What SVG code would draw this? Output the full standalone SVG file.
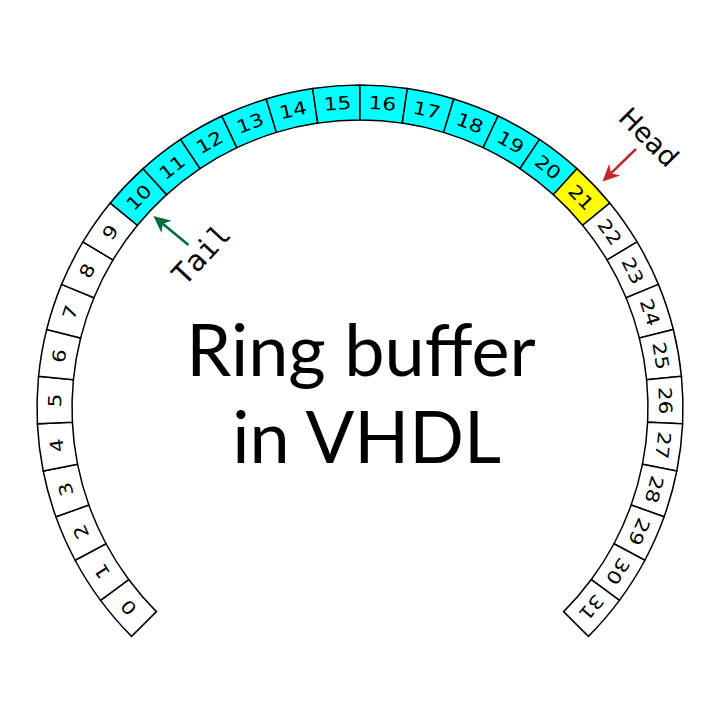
<svg xmlns="http://www.w3.org/2000/svg" xmlns:xlink="http://www.w3.org/1999/xlink" width="720" height="720" viewBox="0 0 720 720">
<style>
.seg{stroke:#000;stroke-width:1.5;stroke-linejoin:miter}
.w{fill:#fff}
.c{fill:#00ffff}
.y{fill:#ffff00}
.n{font-family:"DejaVu Sans",sans-serif;font-size:18px;text-anchor:middle;fill:#000}
.lbl{font-family:"DejaVu Sans",sans-serif;font-size:27px;text-anchor:middle;fill:#000}
.lblm{font-family:"DejaVu Sans Mono",monospace;font-size:29px;text-anchor:middle;fill:#000}
.title{font-family:Lato,"Liberation Sans",sans-serif;font-size:72px;text-anchor:middle;fill:#000}
</style>
<defs>
<path id="seg" class="seg" d="M -23.761,-322.125 A 323 323 0 0 1 23.761,-322.125 L 21.187,-287.220 A 288 288 0 0 0 -21.187,-287.220 Z"/>
<marker id="ahR" markerUnits="userSpaceOnUse" markerWidth="30" markerHeight="30" viewBox="-10 -15 30 30" refX="0" refY="0" orient="auto" overflow="visible">
<path d="M12,0 L-5,-8 L0,0 L-5,8 Z" fill="#c1272d"/>
</marker>
<marker id="ahG" markerUnits="userSpaceOnUse" markerWidth="30" markerHeight="30" viewBox="-10 -15 30 30" refX="0" refY="0" orient="auto" overflow="visible">
<path d="M12,0 L-5,-8 L0,0 L-5,8 Z" fill="#006b3a"/>
</marker>
</defs>
<rect width="720" height="720" fill="#fff"/>
<g id="ring">
<g id="s0" transform="translate(360 408) rotate(-130.78125)"><use xlink:href="#seg" href="#seg" class="w"/><text class="n" transform="translate(0 -299) scale(1.2 1)">0</text></g>
<g id="s1" transform="translate(360 408) rotate(-122.34375)"><use xlink:href="#seg" href="#seg" class="w"/><text class="n" transform="translate(0 -299) scale(1.2 1)">1</text></g>
<g id="s2" transform="translate(360 408) rotate(-113.90625)"><use xlink:href="#seg" href="#seg" class="w"/><text class="n" transform="translate(0 -299) scale(1.2 1)">2</text></g>
<g id="s3" transform="translate(360 408) rotate(-105.46875)"><use xlink:href="#seg" href="#seg" class="w"/><text class="n" transform="translate(0 -299) scale(1.2 1)">3</text></g>
<g id="s4" transform="translate(360 408) rotate(-97.03125)"><use xlink:href="#seg" href="#seg" class="w"/><text class="n" transform="translate(0 -299) scale(1.2 1)">4</text></g>
<g id="s5" transform="translate(360 408) rotate(-88.59375)"><use xlink:href="#seg" href="#seg" class="w"/><text class="n" transform="translate(0 -299) scale(1.2 1)">5</text></g>
<g id="s6" transform="translate(360 408) rotate(-80.15625)"><use xlink:href="#seg" href="#seg" class="w"/><text class="n" transform="translate(0 -299) scale(1.2 1)">6</text></g>
<g id="s7" transform="translate(360 408) rotate(-71.71875)"><use xlink:href="#seg" href="#seg" class="w"/><text class="n" transform="translate(0 -299) scale(1.2 1)">7</text></g>
<g id="s8" transform="translate(360 408) rotate(-63.28125)"><use xlink:href="#seg" href="#seg" class="w"/><text class="n" transform="translate(0 -299) scale(1.2 1)">8</text></g>
<g id="s9" transform="translate(360 408) rotate(-54.84375)"><use xlink:href="#seg" href="#seg" class="w"/><text class="n" transform="translate(0 -299) scale(1.2 1)">9</text></g>
<g id="s10" transform="translate(360 408) rotate(-46.40625)"><use xlink:href="#seg" href="#seg" class="c"/><text class="n" transform="translate(0 -299) scale(1.2 1)">10</text></g>
<g id="s11" transform="translate(360 408) rotate(-37.96875)"><use xlink:href="#seg" href="#seg" class="c"/><text class="n" transform="translate(0 -299) scale(1.2 1)">11</text></g>
<g id="s12" transform="translate(360 408) rotate(-29.53125)"><use xlink:href="#seg" href="#seg" class="c"/><text class="n" transform="translate(0 -299) scale(1.2 1)">12</text></g>
<g id="s13" transform="translate(360 408) rotate(-21.09375)"><use xlink:href="#seg" href="#seg" class="c"/><text class="n" transform="translate(0 -299) scale(1.2 1)">13</text></g>
<g id="s14" transform="translate(360 408) rotate(-12.65625)"><use xlink:href="#seg" href="#seg" class="c"/><text class="n" transform="translate(0 -299) scale(1.2 1)">14</text></g>
<g id="s15" transform="translate(360 408) rotate(-4.21875)"><use xlink:href="#seg" href="#seg" class="c"/><text class="n" transform="translate(0 -299) scale(1.2 1)">15</text></g>
<g id="s16" transform="translate(360 408) rotate(4.21875)"><use xlink:href="#seg" href="#seg" class="c"/><text class="n" transform="translate(0 -299) scale(1.2 1)">16</text></g>
<g id="s17" transform="translate(360 408) rotate(12.65625)"><use xlink:href="#seg" href="#seg" class="c"/><text class="n" transform="translate(0 -299) scale(1.2 1)">17</text></g>
<g id="s18" transform="translate(360 408) rotate(21.09375)"><use xlink:href="#seg" href="#seg" class="c"/><text class="n" transform="translate(0 -299) scale(1.2 1)">18</text></g>
<g id="s19" transform="translate(360 408) rotate(29.53125)"><use xlink:href="#seg" href="#seg" class="c"/><text class="n" transform="translate(0 -299) scale(1.2 1)">19</text></g>
<g id="s20" transform="translate(360 408) rotate(37.96875)"><use xlink:href="#seg" href="#seg" class="c"/><text class="n" transform="translate(0 -299) scale(1.2 1)">20</text></g>
<g id="s21" transform="translate(360 408) rotate(46.40625)"><use xlink:href="#seg" href="#seg" class="y"/><text class="n" transform="translate(0 -299) scale(1.2 1)">21</text></g>
<g id="s22" transform="translate(360 408) rotate(54.84375)"><use xlink:href="#seg" href="#seg" class="w"/><text class="n" transform="translate(0 -299) scale(1.2 1)">22</text></g>
<g id="s23" transform="translate(360 408) rotate(63.28125)"><use xlink:href="#seg" href="#seg" class="w"/><text class="n" transform="translate(0 -299) scale(1.2 1)">23</text></g>
<g id="s24" transform="translate(360 408) rotate(71.71875)"><use xlink:href="#seg" href="#seg" class="w"/><text class="n" transform="translate(0 -299) scale(1.2 1)">24</text></g>
<g id="s25" transform="translate(360 408) rotate(80.15625)"><use xlink:href="#seg" href="#seg" class="w"/><text class="n" transform="translate(0 -299) scale(1.2 1)">25</text></g>
<g id="s26" transform="translate(360 408) rotate(88.59375)"><use xlink:href="#seg" href="#seg" class="w"/><text class="n" transform="translate(0 -299) scale(1.2 1)">26</text></g>
<g id="s27" transform="translate(360 408) rotate(97.03125)"><use xlink:href="#seg" href="#seg" class="w"/><text class="n" transform="translate(0 -299) scale(1.2 1)">27</text></g>
<g id="s28" transform="translate(360 408) rotate(105.46875)"><use xlink:href="#seg" href="#seg" class="w"/><text class="n" transform="translate(0 -299) scale(1.2 1)">28</text></g>
<g id="s29" transform="translate(360 408) rotate(113.90625)"><use xlink:href="#seg" href="#seg" class="w"/><text class="n" transform="translate(0 -299) scale(1.2 1)">29</text></g>
<g id="s30" transform="translate(360 408) rotate(122.34375)"><use xlink:href="#seg" href="#seg" class="w"/><text class="n" transform="translate(0 -299) scale(1.2 1)">30</text></g>
<g id="s31" transform="translate(360 408) rotate(130.78125)"><use xlink:href="#seg" href="#seg" class="w"/><text class="n" transform="translate(0 -299) scale(1.2 1)">31</text></g>
</g>
<g id="head-label"><text class="lbl" transform="translate(649 137) rotate(45)" y="9.8">Head</text></g>
<g id="tail-label"><text class="lblm" transform="translate(201 254) rotate(-47)" y="10.5">Tail</text></g>
<g id="connectors">
<line x1="636" y1="149" x2="611.1" y2="173.15" stroke="#c1272d" stroke-width="2.5" marker-end="url(#ahR)"/>
<line x1="188.5" y1="245" x2="162.7" y2="223.7" stroke="#006b3a" stroke-width="2.5" marker-end="url(#ahG)"/>
</g>
<g id="title">
<text class="title" x="361" y="376">Ring buffer</text>
<text class="title" x="366.5" y="463">in VHDL</text>
</g>
</svg>
